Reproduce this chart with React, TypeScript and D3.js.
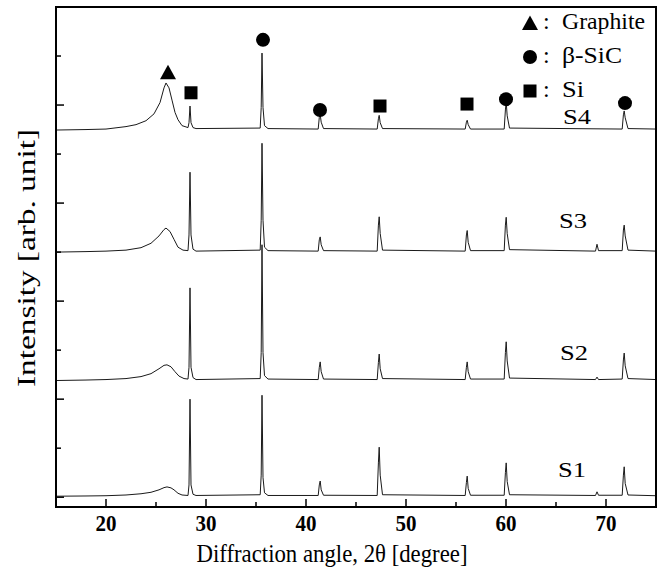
import React from "react";
import * as d3 from "d3";

// XRD traces: [2θ, intensity]
const s1: [number, number][] = [
  [15, 20], [18, 25], [20, 30], [22, 45], [23.5, 70], [24.5, 100], [25.3, 150], [25.8, 195], [26.1, 210], [26.5, 190], [26.8, 150], [27.2, 80], [27.6, 45], [28.2, 35],
  [28.3, 250], [28.4, 2000], [28.5, 250], [28.7, 60], [29, 35],
  [35.42, 50], [35.52, 450], [35.6, 2080], [35.7, 400], [35.85, 90], [36.2, 35],
  [41.22, 35], [41.33, 250], [41.42, 330], [41.52, 150], [41.75, 40],
  [47.12, 35], [47.24, 700], [47.32, 1020], [47.42, 450], [47.65, 50],
  [55.92, 35], [56.04, 300], [56.12, 430], [56.22, 180], [56.45, 40],
  [59.82, 40], [59.94, 500], [60.02, 700], [60.12, 320], [60.35, 50],
  [68.95, 35], [69.1, 110], [69.25, 40],
  [71.62, 40], [71.74, 450], [71.82, 620], [71.92, 280], [72.2, 45], [75, 30],
];

const s2: [number, number][] = [
  [15, 2380], [18, 2390], [20, 2400], [22, 2420], [23.5, 2460], [24.5, 2520], [25.3, 2620], [25.8, 2690], [26.1, 2700], [26.5, 2660], [26.9, 2560], [27.3, 2470], [27.8, 2420], [28.2, 2410],
  [28.3, 2650], [28.4, 4270], [28.5, 2650], [28.7, 2440], [29, 2400],
  [35.42, 2420], [35.52, 2950], [35.6, 5150], [35.7, 2950], [35.85, 2480], [36.2, 2410],
  [41.22, 2400], [41.33, 2650], [41.42, 2760], [41.52, 2560], [41.75, 2410],
  [47.12, 2400], [47.24, 2750], [47.32, 2920], [47.42, 2620], [47.65, 2420],
  [55.92, 2400], [56.04, 2650], [56.12, 2760], [56.22, 2560], [56.45, 2410],
  [59.82, 2410], [59.94, 2950], [60.02, 3170], [60.12, 2780], [60.35, 2430],
  [68.95, 2400], [69.1, 2450], [69.25, 2400],
  [71.62, 2410], [71.74, 2800], [71.82, 2940], [71.92, 2680], [72.2, 2420], [75, 2400],
];

const s3: [number, number][] = [
  [15, 5000], [18, 5010], [20, 5020], [22, 5040], [23.5, 5090], [24.5, 5180], [25.3, 5330], [25.8, 5460], [26.0, 5490], [26.4, 5420], [26.8, 5260], [27.2, 5100], [27.7, 5040], [28.2, 5030],
  [28.3, 5350], [28.4, 6630], [28.5, 5350], [28.7, 5060], [29, 5020],
  [35.42, 5040], [35.52, 5650], [35.6, 7220], [35.7, 5650], [35.85, 5100], [36.2, 5030],
  [41.22, 5020], [41.33, 5250], [41.42, 5310], [41.52, 5150], [41.75, 5030],
  [47.12, 5020], [47.24, 5550], [47.32, 5720], [47.42, 5380], [47.65, 5040],
  [55.92, 5020], [56.04, 5350], [56.12, 5440], [56.22, 5200], [56.45, 5030],
  [59.82, 5030], [59.94, 5550], [60.02, 5710], [60.12, 5380], [60.35, 5050],
  [68.95, 5020], [69.1, 5160], [69.25, 5030],
  [71.62, 5030], [71.74, 5450], [71.82, 5550], [71.92, 5330], [72.2, 5040], [75, 5020],
];

const s4: [number, number][] = [
  [15, 7490], [18, 7500], [20, 7510], [22, 7560], [23, 7600], [24, 7680], [24.8, 7820], [25.4, 8050], [25.8, 8350], [26.0, 8450], [26.3, 8350], [26.6, 8100], [26.9, 7850], [27.2, 7700], [27.6, 7580], [28.2, 7540],
  [28.3, 7640], [28.4, 7980], [28.5, 7640], [28.7, 7540], [29, 7520],
  [35.42, 7530], [35.52, 7950], [35.6, 9060], [35.7, 7950], [35.85, 7580], [36.2, 7520],
  [41.22, 7510], [41.33, 7750], [41.42, 7810], [41.52, 7650], [41.75, 7520],
  [47.12, 7510], [47.24, 7720], [47.32, 7790], [47.42, 7640], [47.65, 7520],
  [55.92, 7510], [56.04, 7650], [56.12, 7690], [56.22, 7600], [56.45, 7510],
  [59.82, 7510], [59.94, 7900], [60.02, 8060], [60.12, 7780], [60.35, 7530],
  [71.62, 7510], [71.74, 7800], [71.82, 7880], [71.92, 7740], [72.2, 7520], [75, 7510],
];

const series = [s1, s2, s3, s4];
const sampleNames = ["S1", "S2", "S3", "S4"];
// label anchor [2θ, intensity] for each sample name
const sampleLabelPos: [number, number][] = [[66.6, 420], [66.8, 2800], [66.7, 5500], [67.1, 7610]];

// phase markers above S4 peaks
const markerKind = ["tri", "sq", "circ", "circ", "sq", "sq", "circ", "circ"];
const markerTheta = [26.2, 28.5, 35.7, 41.4, 47.4, 56.1, 60.0, 71.9];
const markerValue = [8670, 8250, 9330, 7900, 7980, 8020, 8120, 8040];

const legendKind = ["tri", "circ", "sq"];
const legendText = ["Graphite", "β-SiC", "Si"];
const legendWidth = [83, 60, 22];

const xTicks = [15, 20, 25, 30, 35, 40, 45, 50, 55, 60, 65, 70, 75];
const xTickLabels = [20, 30, 40, 50, 60, 70];
const yTicks = [0, 1000, 2000, 3000, 4000, 5000, 6000, 7000, 8000, 9000];

const W = 666;
const H = 575;
const left = 56, right = 656, top = 7, bottom = 507;
const serif = "'Liberation Serif', 'Times New Roman', serif";

function Marker({ kind, x, y }: { kind: string; x: number; y: number }) {
  if (kind === "circ") return <circle cx={x} cy={y} r={7} fill="#000" />;
  if (kind === "sq") return <rect x={x - 6.5} y={y - 6.5} width={13} height={13} fill="#000" />;
  return <path d={`M${x},${y - 7.5}L${x + 8},${y + 7}L${x - 8},${y + 7}Z`} fill="#000" />;
}

export default function App() {
  const x = d3.scaleLinear().domain([15, 75]).range([left, right]);
  const y = d3.scaleLinear().domain([-200, 10000]).range([bottom, top]);

  const line = d3
    .line<[number, number]>()
    .x((d) => x(d[0]))
    .y((d) => y(d[1]));

  return (
    <svg width={W} height={H} style={{ position: "absolute", left: 0, top: 0 }}>
      <rect width={W} height={H} fill="#fff" />
      {series.map((s, i) => (
        <path key={i} d={line(s) || ""} fill="none" stroke="#1a1a1a" strokeWidth={1} strokeLinejoin="round" />
      ))}

      {/* frame */}
      <rect x={left} y={top} width={right - left} height={bottom - top} fill="none" stroke="#000" strokeWidth={2} />

      {/* x ticks, inside */}
      {xTicks.map((t) => (
        <line key={t} x1={x(t)} x2={x(t)} y1={bottom} y2={bottom - (t % 10 === 0 ? 8 : 5)} stroke="#000" strokeWidth={1.5} />
      ))}
      {xTickLabels.map((t) => (
        <text key={t} x={x(t)} y={531} textAnchor="middle" fontFamily={serif} fontWeight="bold" fontSize={23} textLength={21} lengthAdjust="spacingAndGlyphs">
          {t}
        </text>
      ))}

      {/* y ticks, inside */}
      {yTicks.map((t) => (
        <line key={t} x1={left} x2={left + (t % 2000 === 0 ? 8 : 5)} y1={y(t)} y2={y(t)} stroke="#000" strokeWidth={1.5} />
      ))}

      <text x={332} y={562} textAnchor="middle" fontFamily={serif} fontSize={26} textLength={271} lengthAdjust="spacingAndGlyphs">
        Diffraction angle, 2θ [degree]
      </text>
      <text transform={`translate(35,258) rotate(-90)`} textAnchor="middle" fontFamily={serif} fontSize={25} textLength={258} lengthAdjust="spacingAndGlyphs">
        Intensity [arb. unit]
      </text>

      {sampleNames.map((n, i) => (
        <text key={n} x={x(sampleLabelPos[i][0])} y={y(sampleLabelPos[i][1])} textAnchor="middle" fontFamily={serif} fontSize={22} textLength={28} lengthAdjust="spacingAndGlyphs">
          {n}
        </text>
      ))}

      {markerKind.map((k, i) => (
        <Marker key={i} kind={k} x={x(markerTheta[i])} y={y(markerValue[i])} />
      ))}

      {legendKind.map((k, i) => (
        <g key={k}>
          <Marker kind={k} x={530} y={23 + i * 34} />
          <text x={543} y={29 + i * 34} fontFamily={serif} fontSize={24}>
            :
          </text>
          <text x={562} y={29 + i * 34} fontFamily={serif} fontSize={24} textLength={legendWidth[i]} lengthAdjust="spacingAndGlyphs">
            {legendText[i]}
          </text>
        </g>
      ))}
    </svg>
  );
}
